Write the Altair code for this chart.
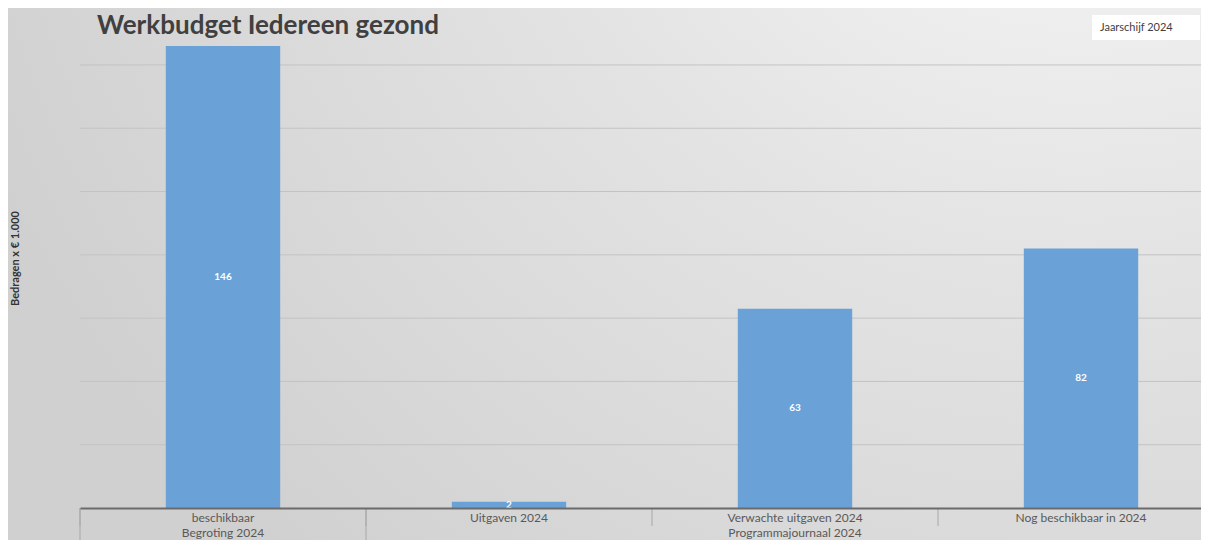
import altair as alt
import pandas as pd

categories = ["beschikbaar", "Uitgaven 2024", "Verwachte uitgaven 2024", "Nog beschikbaar in 2024"]
values = [146, 2, 63, 82]
series_name = "Jaarschijf 2024"
groups = ["Begroting 2024", "Programmajournaal 2024"]
group_center_category = ["beschikbaar", "Verwachte uitgaven 2024"]
group_start_category = ["beschikbaar", "Uitgaven 2024"]
grid_values = [20, 40, 60, 80, 100, 120, 140]

df = pd.DataFrame({"categorie": categories, "waarde": values, "serie": [series_name] * len(categories)})
gdf = pd.DataFrame({"groep": groups, "categorie": group_center_category})
sdf = pd.DataFrame({"categorie": group_start_category})
cdf = pd.DataFrame({"categorie": categories})
griddf = pd.DataFrame({"g": grid_values})

FONT = "Lato"
W, H = 1121, 500
PAD = {"left": 72, "top": 0, "right": 0, "bottom": 32}

xscale = alt.Scale(domain=categories, range=[0, 1144], paddingInner=0, paddingOuter=0)
yscale = alt.Scale(domain=[0, 158], nice=False)

x_axis = alt.Axis(title=None, ticks=False, labelAngle=0, labelFontSize=12, labelColor="#595959",
                  labelFont=FONT, labelPadding=4, domainColor="#6b6b6b", domainWidth=2, grid=False,
                  zindex=1)
y_axis = alt.Axis(title="Bedragen x € 1.000", labels=False, ticks=False, domain=False,
                  grid=False, titleFont=FONT, titleFontSize=11,
                  titleFontWeight=700, titleColor="#333333", titleX=-60, titleY=H / 2, titleAngle=270,
                  zindex=1)

bg = alt.RadialGradient(
    gradient="radial", x1=0.9, y1=0.0, r1=0, x2=0.9, y2=0.0, r2=1.0,
    stops=[alt.GradientStop(offset=0, color="#fcfcfc"),
           alt.GradientStop(offset=0.5, color="#e3e3e3"),
           alt.GradientStop(offset=1, color="#d0d0d0")],
)

background = alt.Chart(alt.Data(values=[{}])).mark_rect(fill=bg).encode(
    x=alt.value(-PAD["left"]), x2=alt.value(W), y=alt.value(0), y2=alt.value(H + PAD["bottom"]),
)

grid = alt.Chart(griddf).mark_rule(color="#c3c3c3", strokeWidth=1).encode(
    y=alt.Y("g:Q", scale=yscale), x=alt.value(0), x2=alt.value(W),
)

bars = alt.Chart(df).mark_bar(width=alt.RelativeBandSize(0.4), color="#6aa2d8").encode(
    x=alt.X("categorie:N", scale=xscale, axis=x_axis, sort=categories),
    y=alt.Y("waarde:Q", scale=yscale, axis=y_axis),
    color=alt.Color("serie:N", scale=alt.Scale(range=["#6aa2d8"]), legend=None),
)

labels = alt.Chart(df).transform_calculate(mid="datum.waarde / 2").mark_text(
    color="white", fontWeight="bold", fontSize=10, font=FONT, baseline="middle"
).encode(
    x=alt.X("categorie:N", scale=xscale, sort=categories),
    y=alt.Y("mid:Q", scale=yscale),
    text=alt.Text("waarde:Q"),
)

short_sep = alt.Chart(cdf).mark_rule(color="#a8a8a8", strokeWidth=1).encode(
    x=alt.X("categorie:N", scale=xscale, sort=categories, bandPosition=0),
    y=alt.value(H), y2=alt.value(H + 18),
)
long_sep = alt.Chart(sdf).mark_rule(color="#a8a8a8", strokeWidth=1).encode(
    x=alt.X("categorie:N", scale=xscale, sort=categories, bandPosition=0),
    y=alt.value(H), y2=alt.value(H + 32),
)
group_text = alt.Chart(gdf).mark_text(fontSize=12, font=FONT, color="#595959", baseline="middle").encode(
    x=alt.X("categorie:N", scale=xscale, sort=categories),
    y=alt.value(H + 25),
    text="groep:N",
)

title = alt.Chart(alt.Data(values=[{"t": "Werkbudget Iedereen gezond"}])).mark_text(
    font=FONT, fontSize=26, fontWeight="bold", color="#404040", align="left", baseline="alphabetic"
).encode(x=alt.value(17), y=alt.value(26), text="t:N")

legend_box = alt.Chart(alt.Data(values=[{}])).mark_rect(fill="white").encode(
    x=alt.value(1012), x2=alt.value(1120), y=alt.value(7), y2=alt.value(32),
)
legend_text = alt.Chart(alt.Data(values=[{"t": series_name}])).mark_text(
    font=FONT, fontSize=11, color="#404040", align="left", baseline="middle"
).encode(x=alt.value(1020), y=alt.value(20), text="t:N")

chart = alt.layer(background, grid, bars, labels, short_sep, long_sep, group_text, title,
                  legend_box, legend_text).properties(
    width=W, height=H,
    autosize=alt.AutoSizeParams(type="none"),
    padding=PAD,
    background="#d9d9d9",
).configure_view(stroke=None)

chart.save("out.html", embed_options={"renderer": "svg", "actions": False})
